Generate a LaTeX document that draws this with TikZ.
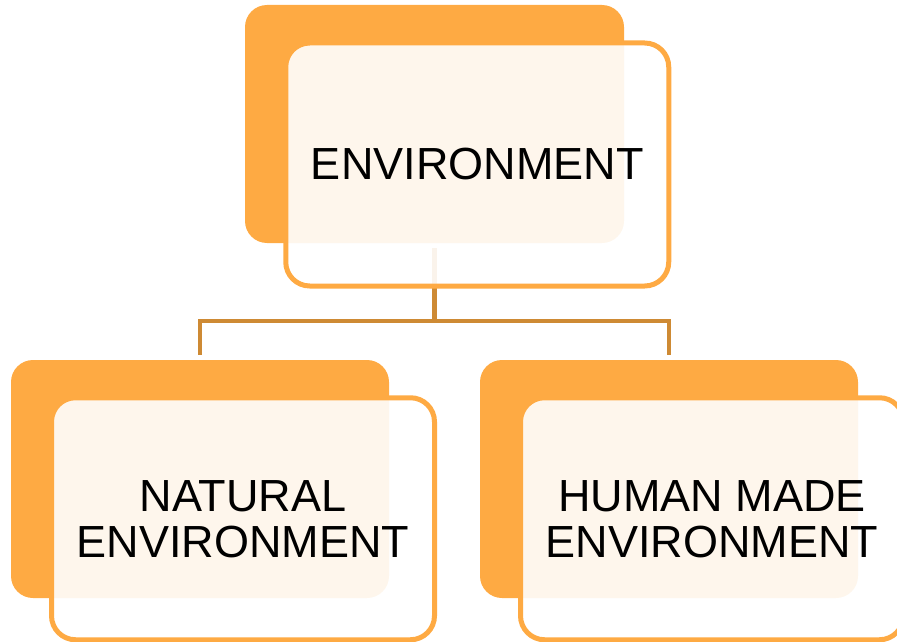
\documentclass[tikz,border=0pt]{standalone}
\usepackage{fontspec}
\setmainfont{Liberation Sans}
\definecolor{boxorange}{RGB}{254,170,67}
\definecolor{linkbrown}{RGB}{206,138,52}
\tikzset{
  backbox/.style={rectangle, rounded corners=22pt, fill=boxorange, draw=none,
    minimum width=378pt, minimum height=238pt, inner sep=0pt},
  frontbox/.style={rectangle, rounded corners=24pt, draw=boxorange, line width=5pt,
    fill=white, fill opacity=0.9, text opacity=1, inner sep=0pt,
    minimum width=383pt, minimum height=242pt, align=center,
    font=\fontsize{45pt}{46pt}\selectfont},
  link/.style={draw=linkbrown, line width=4.5pt}
}
\begin{document}
\begin{tikzpicture}[x=1pt,y=-1pt]
\useasboundingbox (0,0) rectangle (897,642);
\clip (0,0) rectangle (897,642);
% back boxes
\node[backbox, minimum width=379pt] (topback) at (434.5,124) {};
\node[backbox] (leftback) at (200,479) {};
\node[backbox] (rightback) at (669,479) {};
% connectors
\coordinate (bus) at (434.5,321);
\draw[link] ([yshift=-5pt]topback.south) -- (bus);
\draw[link] (bus) -| ([yshift=5pt]leftback.north);
\draw[link] (bus) -| ([yshift=5pt]rightback.north);
% front boxes
\node[frontbox, minimum height=243pt] (topfront) at (477.25,164.5) {ENVIRONMENT};
\node[frontbox] (leftfront) at (243,518.75) {NATURAL\\ENVIRONMENT};
\node[frontbox] (rightfront) at (712,518.75) {HUMAN MADE\\ENVIRONMENT};
\end{tikzpicture}
\end{document}
